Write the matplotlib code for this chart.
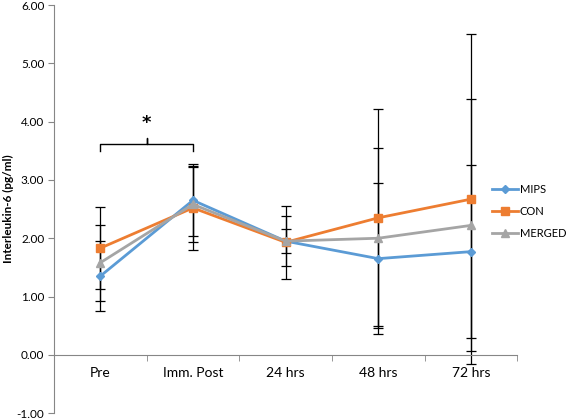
import matplotlib.pyplot as plt
import numpy as np

plt.rcParams['font.family'] = ['Lato', 'DejaVu Sans']

# Data
times = ['Pre', 'Imm. Post', '24 hrs', '48 hrs', '72 hrs']
mips = [1.35, 2.65, 1.95, 1.65, 1.77]
mips_err = [0.60, 0.62, 0.43, 1.30, 1.48]
con = [1.83, 2.52, 1.93, 2.35, 2.67]
con_err = [0.70, 0.72, 0.63, 1.86, 2.83]
merged = [1.58, 2.58, 1.95, 2.00, 2.22]
merged_err = [0.65, 0.65, 0.20, 1.54, 2.16]

x = np.arange(len(times))

fig = plt.figure(figsize=(5.67, 4.19), dpi=100)
ax = fig.add_axes([0.0952, 0.014, 0.817, 0.974])

series = [
    ('MIPS', mips, mips_err, '#5B9BD5', 'D', 4),
    ('CON', con, con_err, '#ED7D31', 's', 5.5),
    ('MERGED', merged, merged_err, '#A5A5A5', '^', 6),
]
for name, vals, err, col, mk, ms in series:
    ax.errorbar(x, vals, yerr=err, fmt='none', ecolor='black', elinewidth=0.9,
                capsize=3.5, capthick=0.9, zorder=2)
for name, vals, err, col, mk, ms in series:
    ax.plot(x, vals, color=col, marker=mk, markersize=ms, linewidth=2,
            label=name, zorder=3)

# significance bracket
ax.plot([0, 0, 0.5, 0.5, 0.5, 1, 1], [3.49, 3.62, 3.62, 3.72, 3.62, 3.62, 3.49],
        color='black', linewidth=1)
ax.text(0.5, 3.98, '*', ha='center', va='center', fontsize=13,
        fontweight='bold', family='DejaVu Sans')

ax.set_xlim(-0.5, 4.5)
ax.set_ylim(-1, 6)
ax.set_yticks(np.arange(-1, 7, 1))
ax.set_yticklabels(['%.2f' % v for v in np.arange(-1, 7, 1)], fontsize=8.5)
ax.set_xticks(x)
ax.set_xticklabels(times, fontsize=8.5)
ax.set_xticks(np.arange(-0.5, 5, 1), minor=True)
ax.tick_params(axis='x', which='major', length=0, pad=9)
ax.tick_params(axis='x', which='minor', length=4, color='#868686')
ax.tick_params(axis='y', length=4, color='#868686', pad=3)
ax.set_ylabel('Interleukin-6 (pg/ml)', fontsize=8.5, fontweight='bold', labelpad=2)

for s in ['top', 'right']:
    ax.spines[s].set_visible(False)
ax.spines['bottom'].set_position(('data', 0))
ax.spines['bottom'].set_color('#868686')
ax.spines['left'].set_color('#868686')

fig.legend(loc='upper left', bbox_to_anchor=(0.85, 0.585), frameon=False,
           fontsize=8, handlelength=2.3, labelspacing=1.0, handletextpad=0.2)

fig.savefig('out.png', dpi=100)
